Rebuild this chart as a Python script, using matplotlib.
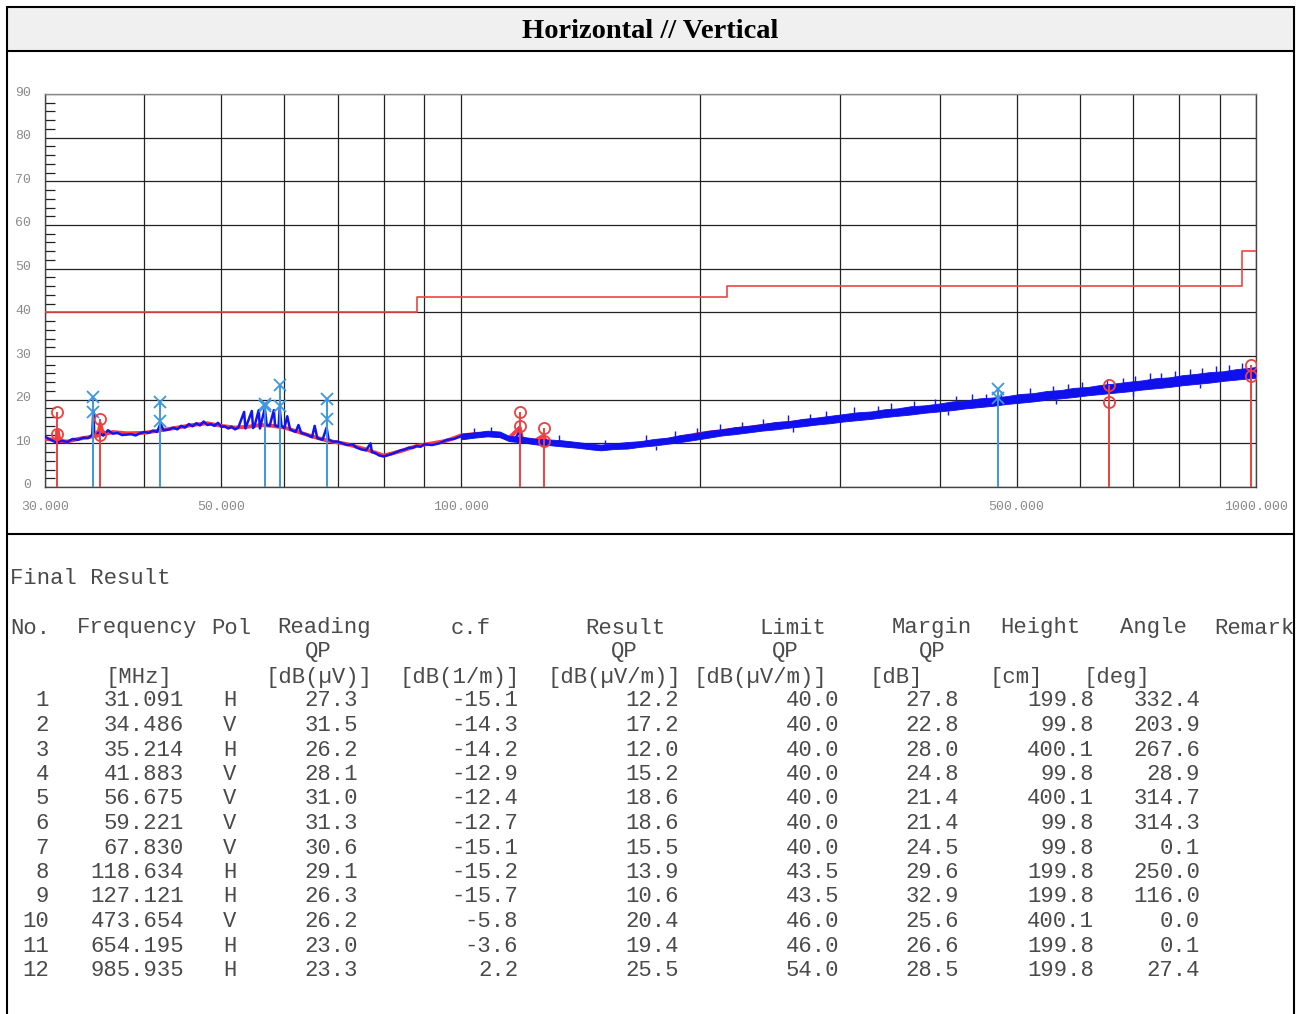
import matplotlib
matplotlib.use("Agg")
import matplotlib.pyplot as plt
import matplotlib.ticker as mticker
import matplotlib.transforms as mtrans
from matplotlib.lines import Line2D
from matplotlib.patches import Rectangle

plt.rcParams['font.family'] = ['Liberation Mono', 'DejaVu Sans']

# ---------------- data ----------------
title = "Horizontal // Vertical"

x_tick_vals = [30, 50, 100, 500, 1000]
x_tick_labels = ["30.000", "50.000", "100.000", "500.000", "1000.000"]
x_grid_vals = [40, 60, 70, 80, 90, 200, 300, 400, 600, 700, 800, 900]

limit_freq = [30, 88, 216, 960, 1000]
limit_level = [40, 43.5, 46, 54, 54]

# vertical polarisation trace, low band (MHz, dBuV/m)
v_trace = [
    (30, 11.5), (30.5, 10.8), (31, 10.2), (31.5, 10.6), (32, 10.3), (32.5, 11.0), (33, 10.8),
    (33.5, 11.3), (34, 11.2), (34.4, 12.0), (34.5, 17.5), (34.6, 12.2), (35, 12.5), (35.5, 11.8),
    (36, 13.0), (36.5, 12.2), (37, 12.4), (37.5, 11.9), (38, 12.0), (38.5, 12.1), (39, 11.8),
    (39.5, 12.3), (40, 12.6), (40.5, 12.4), (41, 12.9), (41.5, 12.6), (41.9, 14.5), (42.3, 13.0),
    (43, 13.2), (43.5, 13.6), (44, 13.2), (44.5, 14.0), (45, 13.6), (45.5, 14.4), (46, 13.9),
    (46.5, 14.6), (47, 14.1), (47.5, 15.0), (48, 14.2), (48.5, 14.4), (49, 14.0), (49.5, 14.7),
    (50, 13.8), (50.5, 13.9), (51, 13.4), (51.5, 13.8), (52, 13.2), (52.5, 13.6), (53.4, 17.2),
    (53.6, 13.4), (54.6, 17.4), (54.8, 13.5), (55, 13.8), (55.7, 17.6), (55.9, 13.4), (56, 14.0),
    (56.7, 18.0), (57, 14.2), (57.5, 14.0), (58.2, 17.6), (58.4, 14.1), (59, 13.8), (59.2, 18.0),
    (59.5, 14.0), (60, 13.5), (60.5, 16.2), (61, 13.2), (62, 12.6), (62.5, 14.2), (63, 12.4),
    (64, 12.0), (65, 11.4), (65.5, 14.0), (66, 11.2), (67, 10.8), (67.8, 13.6), (68.2, 10.9),
    (69, 10.4), (70, 10.4), (71, 10.0), (72, 9.6), (73, 9.8), (74, 9.0), (75, 8.6), (76, 8.4),
    (77, 10.0), (77.3, 8.0), (78, 7.8), (79, 7.2), (80, 7.0), (81, 7.3), (82, 7.6), (83, 8.0),
    (84, 8.4), (85, 8.6), (86, 9.0), (87, 9.0), (88, 9.4), (89, 9.2), (90, 9.8), (92, 9.6),
    (94, 10.0), (96, 10.8), (98, 11.0), (100, 11.6), (102, 11.4), (104, 12.0), (106, 11.8),
    (108, 12.2), (110, 11.9), (112, 12.1), (114, 11.6), (115, 10.8), (117, 11.0), (118.6, 12.8),
    (119.5, 10.6), (121, 10.4), (123, 10.8), (125, 10.0), (127, 10.8), (129, 10.2), (131, 9.8),
    (134, 10.0), (137, 9.4), (140, 9.6), (143, 9.0), (146, 9.2), (150, 9.0),
]

# noise band envelope of the vertical trace (MHz, low, high)
v_band = [
    (100, 10.9, 12.2), (104, 11.3, 12.5), (108, 11.6, 12.9), (112, 11.4, 12.7), (115, 10.5, 11.7),
    (119.5, 10.2, 11.5), (125, 9.7, 11.0), (129, 9.6, 10.9), (134, 9.3, 10.7), (140, 9.0, 10.3),
    (146, 8.6, 9.9), (150, 8.4, 9.7), (156, 8.7, 10.0), (162, 8.8, 10.3), (168, 9.2, 10.5),
    (175, 9.5, 11.0), (182, 9.9, 11.3), (189, 10.3, 11.9), (197, 10.8, 12.3), (205, 11.3, 12.9),
    (213, 11.8, 13.2), (221, 12.1, 13.7), (230, 12.5, 14.0), (239, 12.9, 14.4), (249, 13.2, 14.9),
    (259, 13.6, 15.1), (269, 13.9, 15.6), (280, 14.3, 15.9), (291, 14.6, 16.3), (303, 15.0, 16.7),
    (315, 15.3, 17.1), (328, 15.6, 17.3), (341, 16.0, 17.8), (354, 16.3, 18.0), (368, 16.6, 18.5),
    (383, 17.0, 18.7), (399, 17.3, 19.1), (415, 17.6, 19.6), (431, 18.0, 19.8), (449, 18.3, 20.3),
    (467, 18.6, 20.5), (485, 19.0, 20.8), (505, 19.3, 21.3), (525, 19.6, 21.5), (546, 20.0, 22.0),
    (568, 20.3, 22.2), (590, 20.6, 22.7), (614, 21.0, 22.9), (639, 21.3, 23.4), (664, 21.6, 23.7),
    (691, 21.9, 24.1), (718, 22.3, 24.4), (747, 22.6, 24.9), (777, 22.9, 25.1), (808, 23.3, 25.6),
    (840, 23.6, 25.9), (874, 23.9, 26.3), (909, 24.3, 26.5), (945, 24.6, 27.0), (983, 24.9, 27.3),
    (1000, 25.0, 27.5),
]

# narrow noise spikes on the vertical trace (MHz, from, to)
v_spikes = [
    (104, 12.3, 13.6), (109, 12.6, 13.8), (118.2, 12.2, 14.0), (133, 10.5, 11.8), (152, 9.5, 10.8),
    (171, 10.6, 12.0), (186, 11.5, 12.8), (198, 12.2, 13.6), (212, 13.0, 14.5), (226, 13.6, 15.0),
    (240, 14.2, 15.5), (258, 14.9, 16.4), (275, 15.5, 16.8), (288, 16.0, 17.3), (312, 16.8, 18.3),
    (335, 17.4, 18.6), (348, 17.8, 19.2), (372, 18.3, 19.6), (395, 18.9, 20.2), (420, 19.4, 20.8),
    (440, 19.7, 21.2), (458, 20.2, 21.3), (478, 20.5, 21.9), (520, 21.2, 22.6), (555, 21.8, 23.1),
    (580, 22.2, 23.6), (605, 22.6, 24.0), (650, 23.2, 24.7), (680, 23.7, 25.0), (705, 24.0, 25.4),
    (735, 24.5, 26.0), (760, 24.8, 26.2), (790, 25.2, 26.6), (825, 25.6, 27.1), (855, 25.9, 27.3),
    (890, 26.2, 27.6), (925, 26.6, 28.0), (960, 26.9, 28.3),
    (176, 8.5, 9.5), (262, 12.7, 13.7), (410, 16.5, 17.5), (560, 19.0, 20.1), (700, 20.9, 22.0),
    (850, 22.7, 23.7),
]

# horizontal polarisation trace (MHz, dBuV/m)
h_trace = [
    (30, 11.0), (31, 10.8), (31.1, 13.0), (31.3, 10.6), (32, 10.4), (33, 11.0), (34, 11.4),
    (35, 11.8), (35.2, 14.5), (35.5, 12.0), (36.5, 12.6), (38, 12.3), (40, 12.4), (42, 13.0),
    (44, 13.6), (46, 14.2), (48, 14.6), (50, 14.0), (52, 13.6), (54, 13.8), (56, 14.2),
    (58, 14.0), (60, 13.6), (62, 12.8), (65, 11.6), (68, 10.6), (72, 9.8), (76, 8.6),
    (80, 7.2), (84, 8.2), (88, 9.4), (92, 10.0), (96, 10.6), (100, 11.8), (105, 12.2),
    (110, 12.0), (115, 11.2), (118.6, 13.6), (119.5, 10.8), (124, 10.6), (127.1, 11.8),
    (128, 10.2), (135, 9.8), (142, 9.4), (150, 8.8), (160, 9.4), (175, 10.2), (200, 12.2),
    (250, 14.4), (300, 15.8), (400, 18.4), (500, 20.2), (654, 22.2), (800, 24.2), (1000, 26.4),
]

# markers
mk_freq = [31.091, 34.486, 35.214, 41.883, 56.675, 59.221, 67.830, 118.634, 127.121, 473.654, 654.195, 985.935]
mk_pol = ['H', 'V', 'H', 'V', 'V', 'V', 'V', 'H', 'H', 'V', 'H', 'H']
mk_peak = [17.2, 20.7, 15.5, 19.5, 19.0, 23.4, 20.1, 17.2, 13.4, 22.4, 23.4, 27.9]

# final result table
tb_no = [1, 2, 3, 4, 5, 6, 7, 8, 9, 10, 11, 12]
tb_freq = mk_freq
tb_pol = mk_pol
tb_reading = [27.3, 31.5, 26.2, 28.1, 31.0, 31.3, 30.6, 29.1, 26.3, 26.2, 23.0, 23.3]
tb_cf = [-15.1, -14.3, -14.2, -12.9, -12.4, -12.7, -15.1, -15.2, -15.7, -5.8, -3.6, 2.2]
tb_result = [12.2, 17.2, 12.0, 15.2, 18.6, 18.6, 15.5, 13.9, 10.6, 20.4, 19.4, 25.5]
tb_limit = [40.0, 40.0, 40.0, 40.0, 40.0, 40.0, 40.0, 43.5, 43.5, 46.0, 46.0, 54.0]
tb_margin = [27.8, 22.8, 28.0, 24.8, 21.4, 21.4, 24.5, 29.6, 32.9, 25.6, 26.6, 28.5]
tb_height = [199.8, 99.8, 400.1, 99.8, 400.1, 99.8, 99.8, 199.8, 199.8, 400.1, 199.8, 199.8]
tb_angle = [332.4, 203.9, 267.6, 28.9, 314.7, 314.3, 0.1, 250.0, 116.0, 0.0, 0.1, 27.4]

# ---------------- figure ----------------
W, H = 1298, 1014
fig = plt.figure(figsize=(W / 100, H / 100), dpi=100)
fig.patch.set_facecolor('white')


def fx(x):
    return x / W


def fy(y):
    return 1 - y / H


fig.patches.append(Rectangle((fx(7), fy(51)), fx(1294) - fx(7), fy(7) - fy(51),
                             transform=fig.transFigure, facecolor='#f0f0f0',
                             edgecolor='none', zorder=0))


def fline(xs, ys, lw=1.5):
    fig.add_artist(Line2D([fx(v) for v in xs], [fy(v) for v in ys], color='black',
                          lw=lw, transform=fig.transFigure, solid_capstyle='butt'))


fline([7, 1294], [7, 7])
fline([7, 7], [6, 1014])
fline([1294, 1294], [6, 1014])
fline([7, 1294], [51, 51])
fline([7, 1294], [534, 534])

fig.text(fx(650), fy(31), title, ha='center', va='center', fontsize=20.5,
         family='Liberation Serif', weight='bold', color='black')

ax = fig.add_axes([fx(45), fy(487), fx(1256) - fx(45), fy(94) - fy(487)])
ax.set_xscale('log')
ax.set_xlim(30, 1000)
ax.set_ylim(0, 90)

ax.xaxis.set_major_locator(mticker.FixedLocator(x_tick_vals))
ax.xaxis.set_major_formatter(mticker.FixedFormatter(x_tick_labels))
ax.xaxis.set_minor_locator(mticker.FixedLocator(x_grid_vals))
ax.xaxis.set_minor_formatter(mticker.NullFormatter())
ax.yaxis.set_major_locator(mticker.MultipleLocator(10))
ax.yaxis.set_minor_locator(mticker.MultipleLocator(2))

ax.grid(which='both', axis='x', color='#222222', lw=0.9)
ax.grid(which='major', axis='y', color='#222222', lw=0.9)
ax.set_axisbelow(True)

ax.tick_params(axis='y', which='minor', direction='in', length=7.5, width=0.9, color='#222222')
ax.tick_params(axis='y', which='major', direction='in', length=0, pad=10,
               labelsize=9.5, labelcolor='#8a8a8a')
ax.tick_params(axis='x', which='both', length=0, pad=10, labelsize=9.5, labelcolor='#8a8a8a')

for sp in ax.spines.values():
    sp.set_color('#444444')
    sp.set_linewidth(1.0)
ax.spines['top'].set_color('#888888')

offset = mtrans.ScaledTranslation(0, 3 / 100, fig.dpi_scale_trans)
for lbl in ax.get_yticklabels():
    lbl.set_transform(lbl.get_transform() + offset)

# limit line
ax.step(limit_freq, limit_level, where='post', color='#ee4444', lw=1.2, zorder=3)

# traces
ax.plot([p[0] for p in h_trace], [p[1] for p in h_trace], color='#ff3b3b', lw=2.8, zorder=4)
ax.fill_between([p[0] for p in v_band], [p[1] for p in v_band], [p[2] for p in v_band],
                color='#1010ee', lw=0.6, edgecolor='#1010ee', zorder=5)
ax.plot([p[0] for p in v_trace], [p[1] for p in v_trace], color='#1414f0', lw=1.8, zorder=5)
ax.vlines([p[0] for p in v_spikes], [p[1] for p in v_spikes], [p[2] for p in v_spikes],
          color='#1414f0', lw=1.0, zorder=5)

# markers
for f, pol, pk, qp in zip(mk_freq, mk_pol, mk_peak, tb_result):
    if pol == 'H':
        c = '#ee4040'
        m = 'o'
    else:
        c = '#3d97e0'
        m = 'x'
    ax.vlines(f, 0, pk, color=c, lw=1.4, zorder=6)
    ax.plot([f, f], [pk, qp], ls='none', marker=m, ms=8, mfc='none', mec=c, mew=1.3, zorder=7)

# ---------------- table ----------------
tc = '#4a4a4a'
fs = 16


def t(x, y, s, ha='left'):
    fig.text(fx(x), fy(y), s, ha=ha, va='center', fontsize=fs, color=tc,
             family=['Liberation Mono', 'DejaVu Sans Mono'])


t(10, 578, "Final Result")

hdr1 = [(10, "No."), (77, "Frequency"), (211, "Pol"), (277, "Reading"), (451, "c.f"),
        (585, "Result"), (759, "Limit"), (892, "Margin"), (1000, "Height"),
        (1120, "Angle"), (1214, "Remark")]
for x, s in hdr1:
    t(x, 628, s)
for x in [305, 611, 772, 919]:
    t(x, 652, "QP")
hdr3 = [(105, "[MHz]"), (265, "[dB(\u00b5V)]"), (400, "[dB(1/m)]"), (547, "[dB(\u00b5V/m)]"),
        (693, "[dB(\u00b5V/m)]"), (870, "[dB]"), (990, "[cm]"), (1083, "[deg]")]
for x, s in hdr3:
    t(x, 677, s)

for i in range(len(tb_no)):
    y = 701 + 24.5 * i
    t(49, y, str(tb_no[i]), 'right')
    t(184, y, f"{tb_freq[i]:.3f}", 'right')
    t(230, y, tb_pol[i], 'center')
    t(358, y, f"{tb_reading[i]:.1f}", 'right')
    t(518, y, f"{tb_cf[i]:.1f}", 'right')
    t(679, y, f"{tb_result[i]:.1f}", 'right')
    t(839, y, f"{tb_limit[i]:.1f}", 'right')
    t(959, y, f"{tb_margin[i]:.1f}", 'right')
    t(1094, y, f"{tb_height[i]:.1f}", 'right')
    t(1200, y, f"{tb_angle[i]:.1f}", 'right')

fig.savefig("out.png", dpi=100)
